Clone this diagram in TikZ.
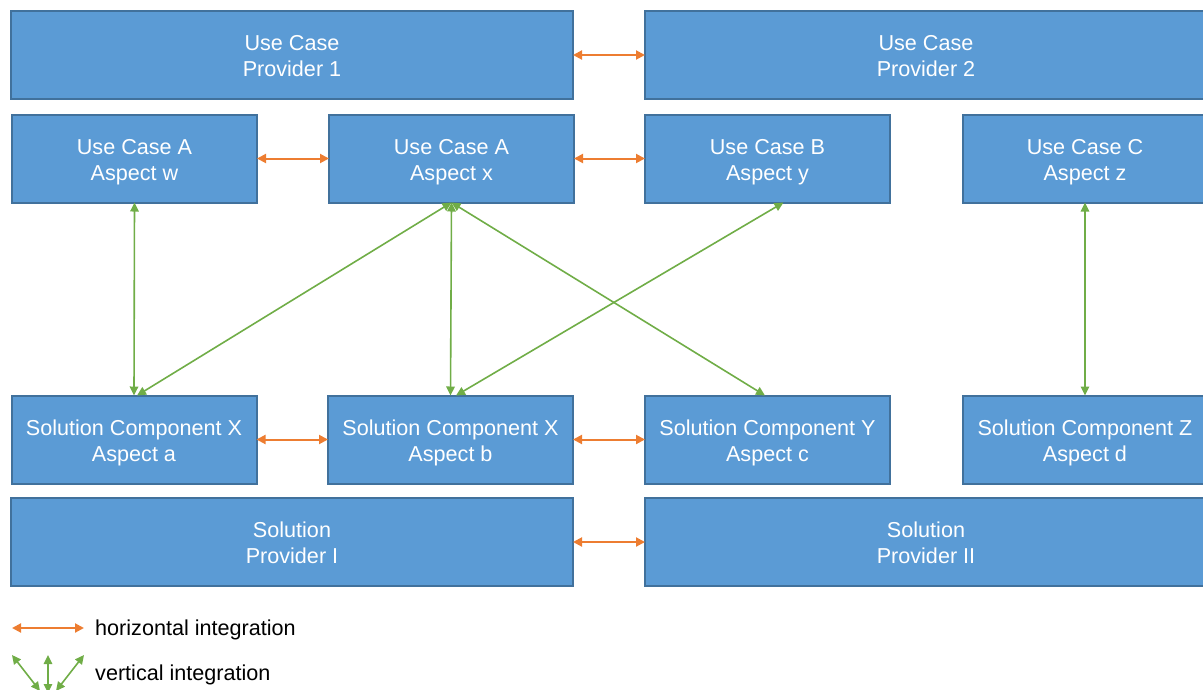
\documentclass[tikz,border=0pt]{standalone}
\usepackage{fontspec}
\setmainfont{Liberation Sans}
\usetikzlibrary{arrows.meta}
\definecolor{boxfill}{HTML}{5B9BD5}
\definecolor{boxline}{HTML}{41719C}
\definecolor{horiz}{HTML}{ED7D31}
\definecolor{vert}{HTML}{70AD47}
\begin{document}
\begin{tikzpicture}[x=1pt, y=-1pt,
  box/.style={draw=boxline, fill=boxfill, line width=2pt, minimum height=88pt,
    text=white, font=\fontsize{21.6}{26}\selectfont, align=center,
    outer sep=0pt, inner sep=0pt, text height=43.5pt, text depth=0pt},
  small/.style={box, minimum width=245pt},
  wide/.style={box, minimum width=562pt},
  hlink/.style={draw=horiz, line width=2pt, {Triangle[length=9pt,width=9pt]}-{Triangle[length=9pt,width=9pt]}},
  vlink/.style={draw=vert, line width=1.6pt, {Triangle[length=9pt,width=8.5pt]}-{Triangle[length=9pt,width=8.5pt]}},
  legendtext/.style={anchor=west, inner sep=0pt, font=\fontsize{21.6}{26}\selectfont, text=black}
]
\path[use as bounding box, clip] (0,0) rectangle (1203,689);

% providers of use cases
\node[wide] (up1) at (292,55) {Use Case\\Provider 1};
\node[wide] (up2) at (926,55) {Use Case\\Provider 2};

% use case aspects
\node[small] (aw) at (134.5,158.5) {Use Case A\\Aspect w};
\node[small] (ax) at (451.5,158.5) {Use Case A\\Aspect x};
\node[small] (by) at (767.5,158.5) {Use Case B\\Aspect y};
\node[small] (cz) at (1085,158.5) {Use Case C\\Aspect z};

% solution component aspects
\node[small] (sa) at (134,439.5) {Solution Component X\\Aspect a};
\node[small] (sb) at (450.5,439.5) {Solution Component X\\Aspect b};
\node[small] (sc) at (767.5,439.5) {Solution Component Y\\Aspect c};
\node[small] (sd) at (1085,439.5) {Solution Component Z\\Aspect d};

% solution providers
\node[wide] (sp1) at (292,542) {Solution\\Provider I};
\node[wide] (sp2) at (926,542) {Solution\\Provider II};

% horizontal integration
\draw[hlink] (up1) -- (up2);
\draw[hlink] (aw) -- (ax);
\draw[hlink] (ax) -- (by);
\draw[hlink] (sa) -- (sb);
\draw[hlink] (sb) -- (sc);
\draw[hlink] (sp1) -- (sp2);

% vertical integration
\draw[vlink] (aw.south) -- (sa.north);
\draw[vlink] (ax.south) -- ([xshift=3pt]sa.north);
\draw[vlink] (ax.south) -- (sb.north);
\draw[vlink] (ax.south) -- ([xshift=-2.5pt]sc.north);
\draw[vlink] ([xshift=16pt]by.south) -- ([xshift=5.5pt]sb.north);
\draw[vlink] (cz.south) -- (sd.north);

% legend
\coordinate (hl1) at (12,628);
\coordinate (hl2) at (84,628);
\draw[hlink] (hl1) -- (hl2);
\node[legendtext] (hlt) at (95,630) {horizontal integration};

\coordinate (vl1) at (12,655);
\coordinate (vl1b) at (40,691);
\coordinate (vl2) at (48,655);
\coordinate (vl2b) at (48,693);
\coordinate (vl3) at (84,655);
\coordinate (vl3b) at (56,691);
\draw[vlink] (vl1) -- (vl1b);
\draw[vlink] (vl2) -- (vl2b);
\draw[vlink] (vl3) -- (vl3b);
\node[legendtext] (vlt) at (95,675) {vertical integration};
\end{tikzpicture}
\end{document}
